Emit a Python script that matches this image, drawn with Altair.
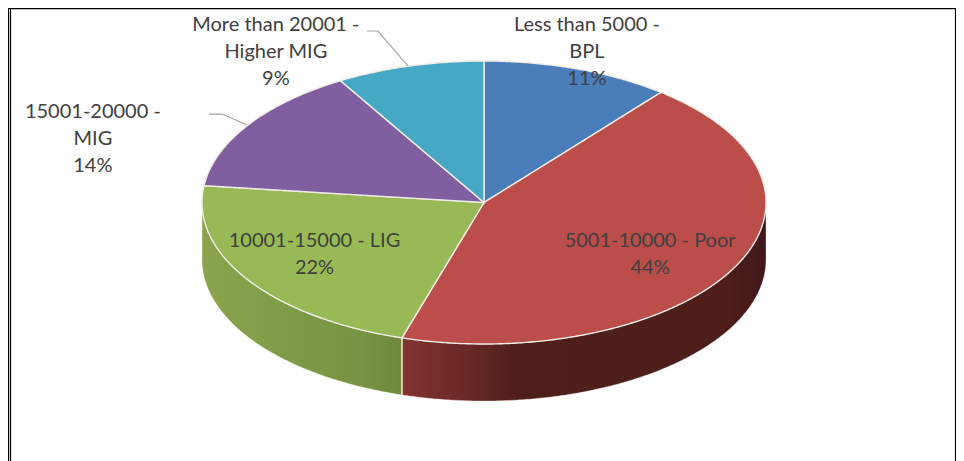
import math
import altair as alt
import pandas as pd

# ---- chart data ----
categories = ["Less than 5000 - BPL", "5001-10000 - Poor", "10001-15000 - LIG",
              "15001-20000 - MIG", "More than 20001 - Higher MIG"]
shares = [10.8, 43.9, 22.2, 14.6, 8.5]            # slice sizes
label_pct = ["11%", "44%", "22%", "14%", "9%"]
label_text = ["Less than 5000 -\nBPL", "5001-10000 - Poor", "10001-15000 - LIG",
              "15001-20000 -\nMIG", "More than 20001 -\nHigher MIG"]
slice_colors = ["#4a7ebb", "#bb4e4b", "#98b955", "#7f5f9f", "#46a8c4"]

# ---- layout, in pie units (radius = 1 on both axes) ----
W, H = 948, 453
CX, CY, RX, RY = 476.0, 194.5, 282.0, 141.5      # pie centre and radii inside the plot area
DEPTH = 57 / RY
# centre of the first line of each label
label_x = [0.365, 0.589, -0.601, -1.387, -0.738]
label_y = [1.253, -0.272, -0.272, 0.638, 1.253]
leaders = [
    [(-0.415, 1.212), (-0.376, 1.212), (-0.270, 0.965)],
    [(-0.975, 0.625), (-0.929, 0.625), (-0.840, 0.548)],
]

x_scale = alt.Scale(domain=[-CX / RX, (W - CX) / RX], range=[0, W], nice=False, zero=False)
y_scale = alt.Scale(domain=[(CY - H) / RY, CY / RY], range=[H, 0], nice=False, zero=False)
X = lambda f: alt.X(f, type="quantitative", scale=x_scale, axis=None)
Y = lambda f: alt.Y(f, type="quantitative", scale=y_scale, axis=None)


def pt(deg):
    t = math.radians(deg)
    return math.sin(t), math.cos(t)


def wedge_rows(name, a0, a1):
    """Vertical slices of a pie wedge, so that it can be drawn as an area."""
    n = max(2, int(a1 - a0) * 2)
    arc = [pt(a0 + (a1 - a0) * i / n) for i in range(n + 1)]
    poly = [(0.0, 0.0)] + arc
    rows = []
    for x in sorted({p[0] for p in poly}):
        ys = []
        for (x0, y0), (x1, y1) in zip(poly, poly[1:] + poly[:1]):
            if min(x0, x1) <= x <= max(x0, x1):
                if x0 == x1:
                    ys += [y0, y1]
                else:
                    ys.append(y0 + (y1 - y0) * (x - x0) / (x1 - x0))
        rows.append({"name": name, "x": x, "y": min(ys), "y2": max(ys)})
    return rows


edges = [0.0]
for s in shares:
    edges.append(edges[-1] + s * 3.6)

top_rows = []
for c, a0, a1 in zip(categories, edges, edges[1:]):
    top_rows += wedge_rows(c, a0, a1)
top = pd.DataFrame(top_rows)


def wall(a0, a1):
    n = int(a1 - a0) * 2
    rows = []
    for i in range(n + 1):
        x, y = pt(a0 + (a1 - a0) * i / n)
        rows.append({"x": x, "y": y, "y2": y - DEPTH})
    return pd.DataFrame(rows).sort_values("x")


def grad(stops):
    return alt.LinearGradient(
        gradient="linear", x1=0, x2=1, y1=0, y2=0,
        stops=[alt.GradientStop(offset=o, color=c) for o, c in stops],
    )


red_wall = (
    alt.Chart(wall(90, edges[2]))
    .mark_area(fill=grad([(0, "#823431"), (0.14, "#6f2b28"), (0.32, "#4f1f1b"), (0.9, "#4d1e1a"), (1, "#40181a")]),
               stroke="#f6e9e6", strokeWidth=0.6, strokeOpacity=0.6)
    .encode(x=X("x"), y=Y("y"), y2="y2")
)
green_wall = (
    alt.Chart(wall(edges[2], 270))
    .mark_area(fill=grad([(0, "#8ba44d"), (0.45, "#7f9a47"), (0.8, "#799344"), (1, "#6e873c")]),
               stroke="#f3f6e8", strokeWidth=0.6, strokeOpacity=0.6)
    .encode(x=X("x"), y=Y("y"), y2="y2")
)
sx, sy = pt(edges[2])
wall_sep = (
    alt.Chart(pd.DataFrame({"x": [sx], "y": [sy], "y2": [sy - DEPTH]}))
    .mark_rule(color="#f2e6df", strokeWidth=1.4)
    .encode(x=X("x"), y=Y("y"), y2="y2")
)

faces = (
    alt.Chart(top)
    .mark_area(stroke="#f2ece6", strokeWidth=1.4, interpolate="linear")
    .encode(
        x=X("x"), y=Y("y"), y2="y2",
        color=alt.Color("name:N", legend=None,
                        scale=alt.Scale(domain=categories, range=slice_colors)),
    )
)

leader_df = pd.DataFrame(
    [{"id": i, "o": j, "x": p[0], "y": p[1]} for i, l in enumerate(leaders) for j, p in enumerate(l)]
)
leader_lines = (
    alt.Chart(leader_df)
    .mark_line(color="#a6a6a6", strokeWidth=1.2)
    .encode(x=X("x"), y=Y("y"), detail="id:N", order="o:Q")
)

lab = pd.DataFrame({
    "t": [t + "\n" + p for t, p in zip(label_text, label_pct)],
    "x": label_x, "y": label_y,
})
labels = (
    alt.Chart(lab)
    .mark_text(font="Lato", fontSize=20, color="#404040", align="center", baseline="middle",
               lineBreak="\n", lineHeight=27)
    .encode(x=X("x"), y=Y("y"), text="t:N")
)

# frame of the picture
frame_v = alt.Chart(pd.DataFrame({"p": [0.5, 2.5, W - 0.5]})).mark_rule(color="#000000", strokeWidth=1.2).encode(
    x=alt.X("p:Q", scale=alt.Scale(domain=[0, W], range=[0, W]), axis=None)
)
frame_h = alt.Chart(pd.DataFrame({"p": [H - 0.5]})).mark_rule(color="#000000", strokeWidth=1.4).encode(
    y=alt.Y("p:Q", scale=alt.Scale(domain=[0, H], range=[H, 0]), axis=None)
)

chart = (
    alt.layer(
        alt.layer(frame_v, frame_h).resolve_scale(x="independent", y="independent"),
        alt.layer(red_wall, green_wall, wall_sep, faces, leader_lines, labels),
    ).resolve_scale(x="independent", y="independent")
    .properties(width=W, height=H, padding=0, background="#ffffff",
                autosize=alt.AutoSizeParams(type="none"))
    .configure_view(stroke=None)
)

chart.save("out.html", embed_options={"renderer": "svg", "actions": False})
